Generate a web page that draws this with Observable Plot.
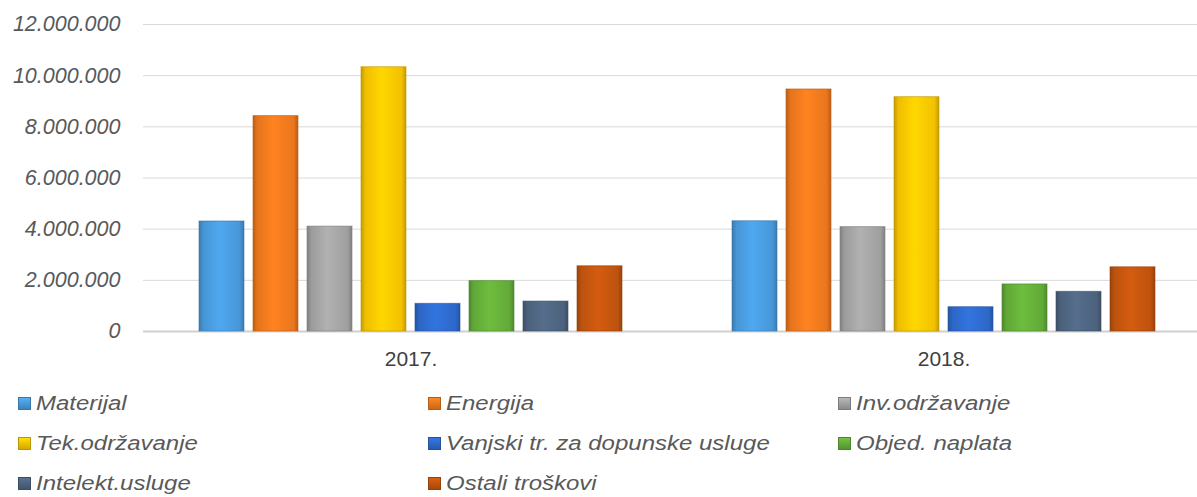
<!DOCTYPE html>
<html>
<head>
<meta charset="utf-8">
<script src="https://cdn.jsdelivr.net/npm/d3@7"></script>
<script src="https://cdn.jsdelivr.net/npm/@observablehq/plot@0.6"></script>
<style>
  html, body { margin: 0; padding: 0; background: #fff; }
  #wrap { position: relative; width: 1197px; height: 380px; }
  #wrap > svg { position: absolute; left: 0; top: 0; }
  #legend {
    display: grid; grid-template-columns: 410px 410px 377px;
    padding-left: 18px; padding-top: 3px; width: 1179px;
    font-family: "Liberation Sans", Arial, sans-serif; font-style: italic;
    font-size: 20px; color: #595959;
  }
  .item { height: 40px; display: flex; align-items: center; white-space: nowrap; }
  .sw { width: 13px; height: 13px; margin-right: 5px; flex: none; }
  .lbl { display: inline-block; transform: scaleX(1.2); transform-origin: left center; }
</style>
</head>
<body>
<div id="wrap"></div>
<div id="legend"></div>
<script>
const years = ["2017.", "2018."];
const categories = ["Materijal", "Energija", "Inv.održavanje", "Tek.održavanje",
  "Vanjski tr. za dopunske usluge", "Objed. naplata", "Intelekt.usluge", "Ostali troškovi"];
const values2017 = [4300000, 8420000, 4100000, 10330000, 1080000, 1970000, 1170000, 2550000];
const values2018 = [4310000, 9460000, 4080000, 9160000, 950000, 1840000, 1550000, 2510000];
const colors = ["#4a9de0", "#f27a1e", "#a5a5a5", "#fcc800", "#2f6cd0", "#66b03a", "#4f6682", "#c5560f"];
const yTicks = [0, 2000000, 4000000, 6000000, 8000000, 10000000, 12000000];

const data = [];
categories.forEach((c, i) => {
  data.push({year: years[0], category: c, value: values2017[i]});
  data.push({year: years[1], category: c, value: values2018[i]});
});

const locale = d3.formatLocale({decimal: ",", thousands: ".", grouping: [3], currency: ["", ""]});
const fmt = locale.format(",d");

const W = 1197, H = 380, ML = 143, MR = 0, MT = 24, MB = 49;

const gridPlot = Plot.plot({
  width: W, height: H, marginLeft: ML, marginRight: MR, marginTop: MT, marginBottom: MB,
  style: {fontFamily: "'Liberation Sans', Arial, sans-serif", fontStyle: "italic", fontSize: "21.5px", color: "#595959", background: "white"},
  y: {domain: [0, 12000000], ticks: yTicks, tickFormat: fmt, tickSize: 0, tickPadding: 23, label: null},
  marks: [
    Plot.ruleY(yTicks.slice(1), {stroke: "#d9d9d9", strokeWidth: 1}),
    Plot.ruleY([0], {stroke: "#d0d0d0", strokeWidth: 2})
  ]
});

const barPlot = Plot.plot({
  width: W, height: H, marginLeft: ML, marginRight: MR, marginTop: MT, marginBottom: MB,
  style: {fontFamily: "'Liberation Sans', Arial, sans-serif", fontSize: "21px", color: "#404040", background: "transparent"},
  y: {domain: [0, 12000000], axis: null},
  x: {domain: categories, axis: null, paddingInner: 0.17, paddingOuter: 0.0556},
  fx: {domain: years, paddingInner: 0.191, paddingOuter: 0.0824, align: 0.575, label: null, tickSize: 0, tickPadding: 20, axis: "bottom"},
  color: {domain: categories, range: categories.map((c, i) => `url(#grad${i})`)},
  marks: [
    Plot.barY(data, {fx: "year", x: "category", y: "value", fill: "category"}),
    Plot.barY(data, {fx: "year", x: "category", y: "value", fill: "none",
      stroke: d => d3.color(colors[categories.indexOf(d.category)]).darker(0.8).formatHex(), strokeWidth: 1, strokeOpacity: 0.6})
  ]
});

// gradient defs for bevel-like look
const defs = d3.select(barPlot).insert("defs", ":first-child");
colors.forEach((c, i) => {
  const base = d3.color(c);
  const g = defs.append("linearGradient").attr("id", `grad${i}`).attr("x1", 0).attr("x2", 1).attr("y1", 0).attr("y2", 0);
  [[0, base.darker(0.7)], [0.1, base.darker(0.15)], [0.45, base.brighter(0.2)], [0.9, base.darker(0.1)], [1, base.darker(0.7)]]
    .forEach(([o, col]) => g.append("stop").attr("offset", o).attr("stop-color", col.formatHex()));
});

document.getElementById("wrap").append(gridPlot, barPlot);

const legend = document.getElementById("legend");
categories.forEach((c, i) => {
  const base = d3.color(colors[i]);
  const item = document.createElement("div");
  item.className = "item";
  const sw = document.createElement("span");
  sw.className = "sw";
  sw.style.background = `linear-gradient(to bottom, ${base.brighter(0.3).formatHex()}, ${base.darker(0.5).formatHex()})`;
  sw.style.border = `1px solid ${base.darker(0.8).formatHex()}`;
  sw.style.boxSizing = "border-box";
  const t = document.createElement("span");
  t.className = "lbl";
  t.textContent = c;
  item.append(sw, t);
  legend.append(item);
});
</script>
</body>
</html>
